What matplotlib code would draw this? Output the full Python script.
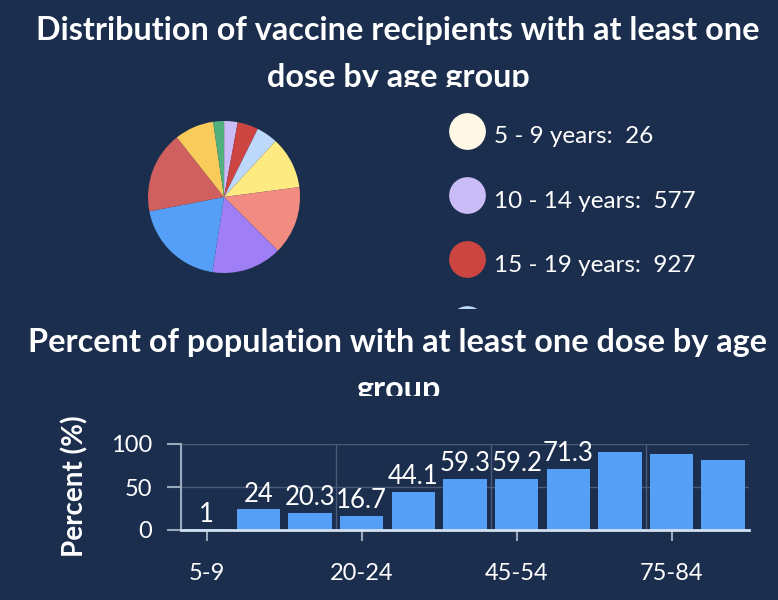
import numpy as np
import matplotlib
matplotlib.use("Agg")
import matplotlib.pyplot as plt

# --- data -----------------------------------------------------------------
pie_labels = ["5 - 9 years", "10 - 14 years", "15 - 19 years", "20 - 24 years",
              "25 - 34 years", "35 - 44 years", "45 - 54 years", "55 - 64 years",
              "65 - 74 years", "75 - 84 years", "85+ years"]
pie_values = [26, 577, 927, 941, 2305, 3037, 3118, 4071, 3624, 1742, 476]
pie_colors = ["#fff8e6", "#c9bcf7", "#cc4540", "#bcd9fb", "#fdea80", "#f28b82",
              "#a07ff6", "#55a0f6", "#d06060", "#f8cb5b", "#52b07f"]

bar_cats = ["5-9", "10-14", "15-19", "20-24", "25-34", "35-44",
            "45-54", "55-64", "65-74", "75-84", "85+"]
bar_values = [1, 24, 20.3, 16.7, 44.1, 59.3, 59.2, 71.3, 90.5, 87.8, 81.9]
y_ticks = [0, 50, 100]

BG = "#1b2e4e"
BAR = "#55a0f6"
W, H = 778, 600

plt.rcParams["font.family"] = ["Lato", "DejaVu Sans"]
fig = plt.figure(figsize=(W / 100, H / 100), dpi=100, facecolor=BG)


def px_axes(x0, y0, x1, y1):
    # axes from pixel box (top-left origin)
    return fig.add_axes([x0 / W, 1 - y1 / H, (x1 - x0) / W, (y1 - y0) / H])


def clipped_title(y0, y1, lines, baselines):
    ax = px_axes(0, y0, W, y1)
    ax.set_xlim(0, W)
    ax.set_ylim(y1, y0)
    ax.axis("off")
    for txt, yb in zip(lines, baselines):
        ax.text(398, yb, txt, ha="center", va="baseline", color="white",
                fontsize=23.3, fontweight="bold", clip_on=True)


# --- titles (second lines are cut off, as in the page) --------------------
clipped_title(0, 87, ["Distribution of vaccine recipients with at least one",
                      "dose by age group"], [40, 87])
clipped_title(318, 396, ["Percent of population with at least one dose by age",
                         "group"], [352, 399])

# --- pie ------------------------------------------------------------------
ax_pie = px_axes(148, 121, 300, 273)
ax_pie.pie(pie_values, colors=pie_colors, startangle=90, counterclock=False,
           wedgeprops=dict(linewidth=0))
ax_pie.set_xlim(-1, 1)
ax_pie.set_ylim(-1, 1)
ax_pie.set_aspect("equal")

# --- legend (scrolling box, only first rows visible) ----------------------
ax_leg = px_axes(440, 100, W, 308)
ax_leg.set_xlim(440, W)
ax_leg.set_ylim(308, 100)
ax_leg.axis("off")
for i, (lab, val, col) in enumerate(zip(pie_labels, pie_values, pie_colors)):
    yc = 130.7 + i * 64.3
    ax_leg.scatter([466.5], [yc], s=700, color=col, linewidths=0)
    ax_leg.text(494, yc + 12.5, f"{lab}:  {val}", color="white", fontsize=17.5,
                va="baseline", ha="left", clip_on=True)

# --- bar chart ------------------------------------------------------------
ax = px_axes(181, 444, 749, 530)
ax.set_facecolor(BG)
x = np.arange(len(bar_cats))
ax.bar(x, bar_values, width=0.84, color=BAR, zorder=2)
for xi, v in zip(x, bar_values):
    if v < 80:
        ax.annotate(f"{v:g}", (xi, v), xytext=(0, 5.5), textcoords="offset points",
                    ha="center", va="baseline", color="white", fontsize=18.5, zorder=3)

ax.set_xlim(-0.5, len(bar_cats) - 0.5)
ax.set_ylim(0, 100)
ax.set_xticks(x[::3])
ax.set_xticklabels(bar_cats[::3])
ax.set_xticks(np.arange(-0.5, len(bar_cats), 3), minor=True)
ax.set_yticks(y_ticks)
ax.tick_params(axis="x", which="major", length=8, width=1.5, color="#9aa8bb",
               labelsize=17, pad=16, labelcolor="white")
ax.tick_params(axis="x", which="minor", length=0)
ax.tick_params(axis="y", length=10, width=1.5, color="#9aa8bb",
               labelsize=17, pad=11, labelcolor="white")
ax.grid(True, axis="y", which="major", color="#4b5b77", linewidth=1, zorder=0)
ax.grid(True, axis="x", which="minor", color="#4b5b77", linewidth=1, zorder=0)
ax.grid(False, axis="x", which="major")
for side in ["top", "right"]:
    ax.spines[side].set_visible(False)
ax.spines["left"].set_color("#9aa8bb")
ax.spines["left"].set_linewidth(1.5)
ax.spines["bottom"].set_color("#d3e0f2")
ax.spines["bottom"].set_linewidth(2)
ax.spines["bottom"].set_zorder(4)

fig.text(75 / W, 1 - 486 / H, "Percent (%)", rotation=90, color="white",
         fontsize=20, fontweight="bold", ha="center", va="center")

fig.savefig("out.png", dpi=100, facecolor=BG)
